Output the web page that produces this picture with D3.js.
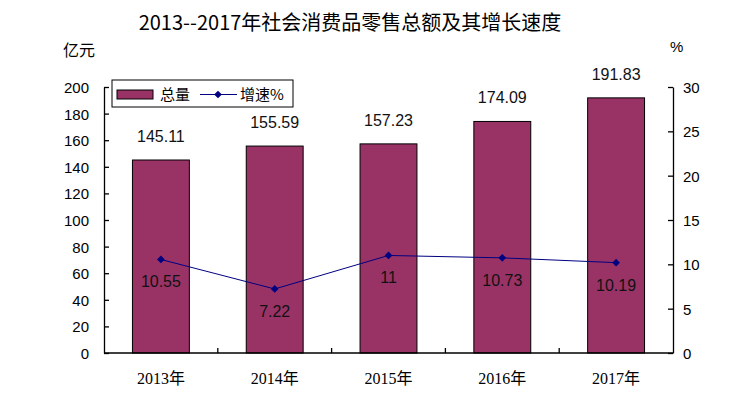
<!DOCTYPE html>
<html>
<head>
<meta charset="utf-8">
<script src="https://cdn.jsdelivr.net/npm/d3@7"></script>
<style>
  body { margin: 0; background: #fff; }
  svg { font-family: "Liberation Sans", Arial, "Noto Sans CJK SC", sans-serif; }
</style>
</head>
<body>
<svg id="chart" width="730" height="402"></svg>
<script>
const years = ['2013年', '2014年', '2015年', '2016年', '2017年'];
const totals = [145.11, 155.59, 157.23, 174.09, 191.83];
const growth = [10.55, 7.22, 11, 10.73, 10.19];
const growthLabels = ['10.55', '7.22', '11', '10.73', '10.19'];
const leftTicks = [0, 20, 40, 60, 80, 100, 120, 140, 160, 180, 200];
const rightTicks = [0, 5, 10, 15, 20, 25, 30];

const BAR = '#993366', LINE = '#000080';
const plot = { left: 104, right: 673, top: 87, bottom: 353 };

const $svg = d3.select('#chart');

const xScale = d3.scaleBand().domain(years).range([plot.left, plot.right]).paddingInner(0.5).paddingOuter(0.25);
const yLeft = d3.scaleLinear().domain([0, 200]).range([plot.bottom, plot.top]);
const yRight = d3.scaleLinear().domain([0, 30]).range([plot.bottom, plot.top]);

// title
$svg.append('text')
    .attr('x', 350).attr('y', 30)
    .attr('text-anchor', 'middle')
    .attr('font-size', 20)
    .attr('font-family', '"Noto Sans CJK SC", sans-serif')
    .text('2013--2017年社会消费品零售总额及其增长速度');

$svg.append('text').attr('x', 63).attr('y', 56)
    .attr('font-size', 16).attr('font-family', '"Noto Sans CJK SC", sans-serif').text('亿元');
$svg.append('text').attr('x', 670).attr('y', 52)
    .attr('font-size', 15).text('%');

// bars
$svg.append('g').selectAll('rect')
    .data(totals)
    .join('rect')
    .attr('x', (d, i) => xScale(years[i]))
    .attr('y', d => yLeft(d))
    .attr('width', xScale.bandwidth())
    .attr('height', d => plot.bottom - yLeft(d))
    .attr('fill', BAR)
    .attr('stroke', '#000')
    .attr('stroke-width', 1);

$svg.append('g').selectAll('text')
    .data(totals)
    .join('text')
    .attr('x', (d, i) => xScale(years[i]) + xScale.bandwidth() / 2)
    .attr('y', d => yLeft(d) - 18)
    .attr('text-anchor', 'middle')
    .attr('font-size', 16)
    .attr('fill', '#111')
    .text(d => d.toFixed(2));

// axes
const leftAxis = $svg.append('g')
    .attr('transform', `translate(${plot.left},0)`)
    .call(d3.axisRight(yLeft).tickValues(leftTicks).tickSize(5).tickSizeOuter(0).tickFormat(''));
const rightAxis = $svg.append('g')
    .attr('transform', `translate(${plot.right},0)`)
    .call(d3.axisLeft(yRight).tickValues(rightTicks).tickSize(5).tickSizeOuter(0).tickFormat(''));
[leftAxis, rightAxis].forEach(a => {
    a.select('.domain').attr('stroke', '#000').attr('stroke-width', 1.3);
    a.selectAll('.tick line').attr('stroke', '#000').attr('stroke-width', 1.3);
});

$svg.append('g').selectAll('text')
    .data(leftTicks)
    .join('text')
    .attr('x', 89).attr('y', d => yLeft(d) + 6)
    .attr('text-anchor', 'end')
    .attr('font-size', 15)
    .text(d => d);
$svg.append('g').selectAll('text')
    .data(rightTicks)
    .join('text')
    .attr('x', 683).attr('y', d => yRight(d) + 6)
    .attr('font-size', 15)
    .text(d => d);

// x axis with boundary ticks pointing up
const step = xScale.step();
const boundaries = d3.range(years.length + 1).map(i => plot.left + i * step);
$svg.append('line')
    .attr('x1', plot.left).attr('x2', plot.right)
    .attr('y1', plot.bottom).attr('y2', plot.bottom)
    .attr('stroke', '#000').attr('stroke-width', 1.3);
$svg.append('g').selectAll('line')
    .data(boundaries.slice(1, -1))
    .join('line')
    .attr('x1', d => d).attr('x2', d => d)
    .attr('y1', plot.bottom).attr('y2', plot.bottom - 5)
    .attr('stroke', '#000').attr('stroke-width', 1.3);

$svg.append('g').selectAll('text')
    .data(years)
    .join('text')
    .attr('x', d => xScale(d) + xScale.bandwidth() / 2)
    .attr('y', 384)
    .attr('text-anchor', 'middle')
    .attr('font-size', 16)
    .attr('font-family', '"Liberation Serif", "Noto Sans CJK SC", serif')
    .text(d => d);

// growth line
const cx = i => xScale(years[i]) + xScale.bandwidth() / 2;
const lineGen = d3.line().x((d, i) => cx(i)).y(d => yRight(d));
$svg.append('path')
    .datum(growth)
    .attr('d', lineGen)
    .attr('fill', 'none')
    .attr('stroke', LINE)
    .attr('stroke-width', 1);
const diamond = d3.symbol().type(d3.symbolSquare).size(30);
$svg.append('g').selectAll('path')
    .data(growth)
    .join('path')
    .attr('d', diamond)
    .attr('transform', (d, i) => `translate(${cx(i)},${yRight(d)}) rotate(45)`)
    .attr('fill', LINE);
$svg.append('g').selectAll('text')
    .data(growth)
    .join('text')
    .attr('x', (d, i) => cx(i))
    .attr('y', d => yRight(d) + 28)
    .attr('text-anchor', 'middle')
    .attr('font-size', 16)
    .attr('fill', '#111')
    .text((d, i) => growthLabels[i]);

// legend
const legend = $svg.append('g').attr('transform', 'translate(112,80)');
legend.append('rect').attr('width', 181).attr('height', 27)
    .attr('fill', '#fff').attr('stroke', '#000').attr('stroke-width', 1);
legend.append('rect').attr('x', 5).attr('y', 10).attr('width', 36).attr('height', 9)
    .attr('fill', BAR).attr('stroke', '#000').attr('stroke-width', 1);
legend.append('text').attr('x', 48).attr('y', 20).attr('font-size', 15)
    .attr('font-family', '"Noto Sans CJK SC", sans-serif').text('总量');
legend.append('line').attr('x1', 88).attr('x2', 125).attr('y1', 14.5).attr('y2', 14.5)
    .attr('stroke', LINE).attr('stroke-width', 1);
legend.append('path').attr('d', diamond).attr('transform', 'translate(106,14.5) rotate(45)').attr('fill', LINE);
legend.append('text').attr('x', 128).attr('y', 20).attr('font-size', 15)
    .attr('font-family', '"Noto Sans CJK SC", sans-serif').text('增速%');
</script>
</body>
</html>
